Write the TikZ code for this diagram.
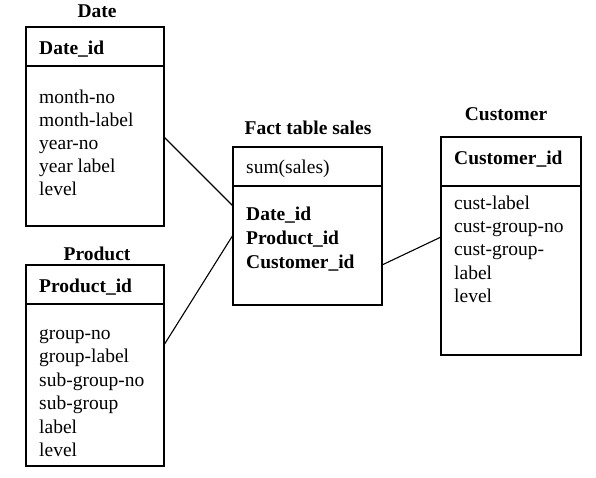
\documentclass[tikz,border=0pt]{standalone}
\usepackage{fontspec}
\setmainfont{Liberation Serif}
\begin{document}
\begin{tikzpicture}[x=1pt,y=-1pt,
  box/.style={draw, line width=1.1pt, inner sep=0pt, outer sep=0pt, anchor=north west},
  txt/.style={anchor=base west, inner sep=0pt, font=\fontsize{19.5}{23}\selectfont},
  btxt/.style={txt, font=\fontsize{19.5}{23}\selectfont\bfseries},
  ttl/.style={anchor=base, inner sep=0pt, font=\fontsize{19.5}{23}\selectfont\bfseries},
  link/.style={line width=1.1pt}]
\useasboundingbox (0,0) rectangle (596,477);
% boxes
\node[box, minimum width=138pt, minimum height=199pt] (date) at (26,27) {};
\node[box, minimum width=138pt, minimum height=201pt] (product) at (26,265) {};
\node[box, minimum width=149pt, minimum height=158pt] (fact) at (233,147) {};
\node[box, minimum width=140pt, minimum height=218pt] (cust) at (441,137) {};
% dividers
\draw[line width=1.1pt] (date.west |- 0,66) -- (date.east |- 0,66);
\draw[line width=1.1pt] (product.west |- 0,304) -- (product.east |- 0,304);
\draw[line width=1.1pt] (fact.west |- 0,186) -- (fact.east |- 0,186);
\draw[line width=1.1pt] (cust.west |- 0,186) -- (cust.east |- 0,186);
% titles
\node[ttl] (tdate) at (97,17) {Date};
\node[ttl] (tprod) at (97,260) {Product};
\node[ttl] (tfact) at (308,134) {Fact table sales};
\node[ttl] (tcust) at (506,120) {Customer};
% keys
\node[btxt] (kdate) at (39,54) {Date\_id};
\node[btxt] (kprod) at (39,292) {Product\_id};
\node[txt] (kfact) at (246,173) {sum(sales)};
\node[btxt] (kcust) at (454,164) {Customer\_id};
% attributes
\foreach \t [count=\i] in {month-no,month-label,year-no,year label,level}
  \node[txt] (da\i) at (39,{103+23.1*(\i-1)}) {\t};
\foreach \t [count=\i] in {group-no,group-label,sub-group-no,sub-group,label,level}
  \node[txt] (pa\i) at (39,{339.5+23.4*(\i-1)}) {\t};
\foreach \t [count=\i] in {Date\_id,Product\_id,Customer\_id}
  \node[btxt] (fa\i) at (246,{220+24*(\i-1)}) {\t};
\foreach \t [count=\i] in {cust-label,cust-group-no,cust-group-,label,level}
  \node[txt] (ca\i) at (454,{209.5+23.2*(\i-1)}) {\t};
% connector ends
\coordinate (c1a) at (date.east |- 0,137);
\coordinate (c1b) at (fact.west |- 0,206);
\coordinate (c2a) at (product.east |- 0,345);
\coordinate (c2b) at (fact.west |- 0,235);
\coordinate (c3a) at (fact.east |- 0,265);
\coordinate (c3b) at (cust.west |- 0,237);
\draw[link] (c1a) -- (c1b);
\draw[link] (c2a) -- (c2b);
\draw[link] (c3a) -- (c3b);
\end{tikzpicture}
\end{document}
